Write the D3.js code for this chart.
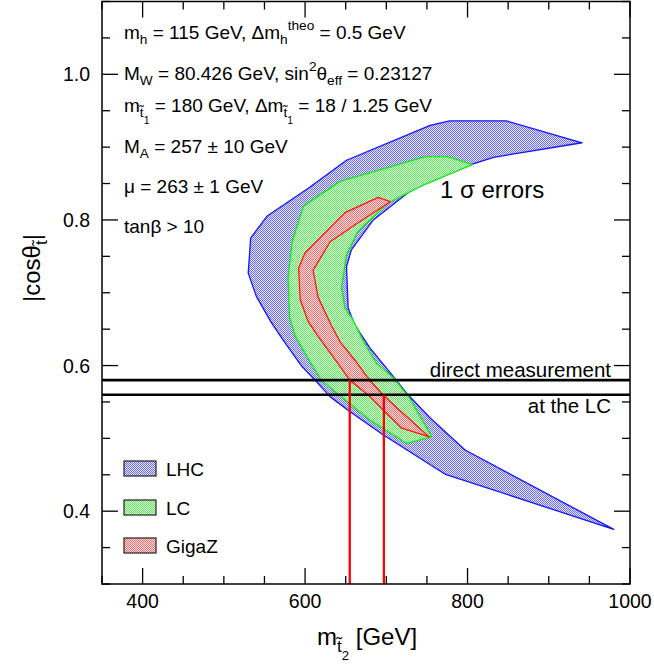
<!DOCTYPE html>
<html><head><meta charset="utf-8">
<script src="https://cdn.jsdelivr.net/npm/d3@7"></script>
<style>
body{margin:0;background:#fff}
text{font-family:"Liberation Sans",Arial,Helvetica,sans-serif;fill:#000}
</style>
</head><body>
<svg id="c" width="654" height="667"></svg>
<script>
// ---- data ----
const xDomain = [350, 1000];
const yDomain = [0.3, 1.1];
const xMajorTicks = [400, 600, 800, 1000];
const xMinorTicks = d3.range(350, 1001, 50);
const yMajorTicks = [0.4, 0.6, 0.8, 1.0];
const yMinorTicks = d3.range(0.3, 1.1001, 0.05);

// 1 sigma regions (m_t2 [GeV], |cos theta_t|)
const lhcRegion = [
  [980,0.375],[772,0.451],[696,0.505],[655,0.537],[631,0.557],[614,0.578],[596,0.599],
  [573,0.635],[558,0.660],[540,0.695],[530,0.727],[533,0.775],[553,0.805],[604,0.8435],
  [651,0.882],[754,0.930],[778,0.936],[848,0.936],[941,0.906],[832,0.886],[807,0.877],
  [754,0.855],[731,0.841],[684,0.800],[657,0.759],[651,0.736],[653,0.679],[661,0.656],
  [680,0.624],[705,0.590],[725,0.562],[754,0.528],[797,0.484]
];
const lcRegion = [
  [806,0.876],[776,0.887],[748,0.887],[643,0.853],[598,0.819],[584,0.770],[579,0.720],
  [581,0.665],[588,0.640],[606,0.605],[620,0.580],[651,0.551],[680,0.525],[725,0.493],
  [756,0.502],[729,0.555],[709,0.583],[688,0.603],[672,0.633],[659,0.663],[649,0.679],
  [645,0.708],[651,0.752],[665,0.784],[702,0.823],[744,0.847]
];
const gigazRegion = [
  [690,0.831],[649,0.810],[600,0.755],[592,0.734],[594,0.690],[604,0.660],[616,0.640],
  [639,0.605],[655,0.580],[680,0.557],[696,0.539],[719,0.514],[753,0.502],[713,0.542],
  [694,0.562],[676,0.585],[661,0.608],[643,0.633],[632,0.656],[616,0.694],[610,0.731],
  [631,0.770],[664,0.795],[705,0.825]
];
const directLines = [0.58, 0.56];
const redDrops = [[655, 0.58], [697, 0.56]];
const legendLabels = ["LHC", "LC", "GigaZ"];

// ---- drawing ----
const svg = d3.select("#c");
const x = d3.scaleLinear().domain(xDomain).range([102, 630]);
const y = d3.scaleLinear().domain(yDomain).range([584, 1.5]);

const defs = svg.append("defs");
const styles = {
  LHC:   {bg:"#e6e6ff", dot:"#6c6cf4", edge:"#1414ff"},
  LC:    {bg:"#e2ffe2", dot:"#5ee85e", edge:"#12e812"},
  GigaZ: {bg:"#ffe4e4", dot:"#f46c6c", edge:"#ff1414"}
};
Object.entries(styles).forEach(([k, s]) => {
  const p = defs.append("pattern").attr("id", "pat" + k)
    .attr("patternUnits", "userSpaceOnUse").attr("width", 2).attr("height", 2);
  p.append("rect").attr("width", 2).attr("height", 2).attr("fill", s.bg);
  p.append("rect").attr("x", 0).attr("y", 0).attr("width", 1).attr("height", 1).attr("fill", s.dot);
  p.append("rect").attr("x", 1).attr("y", 1).attr("width", 1).attr("height", 1).attr("fill", s.dot);
});

const line = d3.line().x(d => x(d[0])).y(d => y(d[1])).curve(d3.curveLinearClosed);
[["LHC", lhcRegion], ["LC", lcRegion], ["GigaZ", gigazRegion]].forEach(([k, data]) => {
  svg.append("path").attr("d", line(data))
    .attr("fill", `url(#pat${k})`).attr("stroke", styles[k].edge)
    .attr("stroke-width", 1.3).attr("stroke-linejoin", "round");
});

// horizontal direct-measurement lines
directLines.forEach(v => {
  svg.append("line").attr("x1", x(xDomain[0])).attr("x2", x(xDomain[1]))
    .attr("y1", y(v)).attr("y2", y(v)).attr("stroke", "#000").attr("stroke-width", 2.6);
});
// red vertical drops
redDrops.forEach(d => {
  svg.append("line").attr("x1", x(d[0])).attr("x2", x(d[0]))
    .attr("y1", y(d[1])).attr("y2", y(yDomain[0])).attr("stroke", "#ff0000").attr("stroke-width", 2.3);
});

// frame
svg.append("rect").attr("x", x(xDomain[0])).attr("y", y(yDomain[1]))
  .attr("width", x(xDomain[1]) - x(xDomain[0])).attr("height", y(yDomain[0]) - y(yDomain[1]))
  .attr("fill", "none").attr("stroke", "#000").attr("stroke-width", 1.5);

// ticks (inward, all four sides)
const tickG = svg.append("g").attr("stroke", "#000").attr("stroke-width", 1.3);
xMinorTicks.forEach(v => {
  const L = xMajorTicks.some(m => Math.abs(m - v) < 1e-6) ? 16 : 8;
  tickG.append("line").attr("x1", x(v)).attr("x2", x(v)).attr("y1", y(yDomain[0])).attr("y2", y(yDomain[0]) - L);
  tickG.append("line").attr("x1", x(v)).attr("x2", x(v)).attr("y1", y(yDomain[1])).attr("y2", y(yDomain[1]) + L);
});
yMinorTicks.forEach(v => {
  const L = yMajorTicks.some(m => Math.abs(m - v) < 1e-6) ? 16 : 8;
  tickG.append("line").attr("y1", y(v)).attr("y2", y(v)).attr("x1", x(xDomain[0])).attr("x2", x(xDomain[0]) + L);
  tickG.append("line").attr("y1", y(v)).attr("y2", y(v)).attr("x1", x(xDomain[1])).attr("x2", x(xDomain[1]) - L);
});

// tick labels
xMajorTicks.forEach(v => {
  svg.append("text").attr("x", x(v)).attr("y", 608).attr("text-anchor", "middle")
    .attr("font-size", 19.5).text(v);
});
yMajorTicks.forEach(v => {
  svg.append("text").attr("x", 90).attr("y", y(v)).attr("dy", "0.36em").attr("text-anchor", "end")
    .attr("font-size", 19.5).text(d3.format(".1f")(v));
});

// rich text helper: parts = [text, level] with level 0 normal, -1 sub, 1 sup, -2 subsub
function rich(g, px, py, size, parts, anchor) {
  const t = g.append("text").attr("x", px).attr("y", py).attr("font-size", size);
  if (anchor) t.attr("text-anchor", anchor);
  const off = {0: 0, "-1": 0.28, "1": -0.45, "-2": 0.62};
  const sc = {0: 1, "-1": 0.72, "1": 0.72, "-2": 0.55};
  let cur = 0;
  parts.forEach(([s, lvl]) => {
    const target = off[lvl] * size;
    t.append("tspan").attr("dy", target - cur).attr("font-size", size * sc[lvl]).text(s);
    cur = target;
  });
  return t;
}

const info = svg.append("g");
const fs = 19;
rich(info, 124, 39, fs, [["m",0],["h",-1],[" = 115 GeV, \u0394m",0],["h",-1],["theo",1],[" = 0.5 GeV",0]]);
rich(info, 124, 80, fs, [["M",0],["W",-1],[" = 80.426 GeV, sin",0],["2",1],["\u03b8",0],["eff",-1],[" = 0.23127",0]]);
rich(info, 124, 112, fs, [["m",0],["t\u0303",-1],["1",-2],[" = 180 GeV, \u0394m",0],["t\u0303",-1],["1",-2],[" = 18 / 1.25 GeV",0]]);
rich(info, 124, 153, fs, [["M",0],["A",-1],[" = 257 \u00b1 10 GeV",0]]);
rich(info, 124, 193, fs, [["\u03bc = 263 \u00b1 1 GeV",0]]);
rich(info, 124, 233, fs, [["tan\u03b2 > 10",0]]);

svg.append("text").attr("x", 440).attr("y", 198).attr("font-size", 24).text("1 \u03c3 errors");
svg.append("text").attr("x", 611).attr("y", 377).attr("font-size", 20.5).attr("text-anchor", "end").text("direct measurement");
svg.append("text").attr("x", 611).attr("y", 413).attr("font-size", 20.5).attr("text-anchor", "end").text("at the LC");

// legend
const legY = [461, 500, 538];
legendLabels.forEach((k, i) => {
  svg.append("rect").attr("x", 124).attr("y", legY[i]).attr("width", 32).attr("height", 15)
    .attr("fill", `url(#pat${k})`).attr("stroke", "#222").attr("stroke-width", 1.2);
  svg.append("text").attr("x", 166).attr("y", legY[i] + 15).attr("font-size", 19).text(k);
});

// axis titles
rich(svg, 367, 645, 24, [["m",0],["t\u0303",-1],["2",-2],[" [GeV]",0]], "middle");
const yl = svg.append("g").attr("transform", "translate(40,268) rotate(-90)");
rich(yl, 0, 0, 24, [["|cos\u03b8",0],["t\u0303",-1],["|",0]], "middle");
</script>
</body></html>
